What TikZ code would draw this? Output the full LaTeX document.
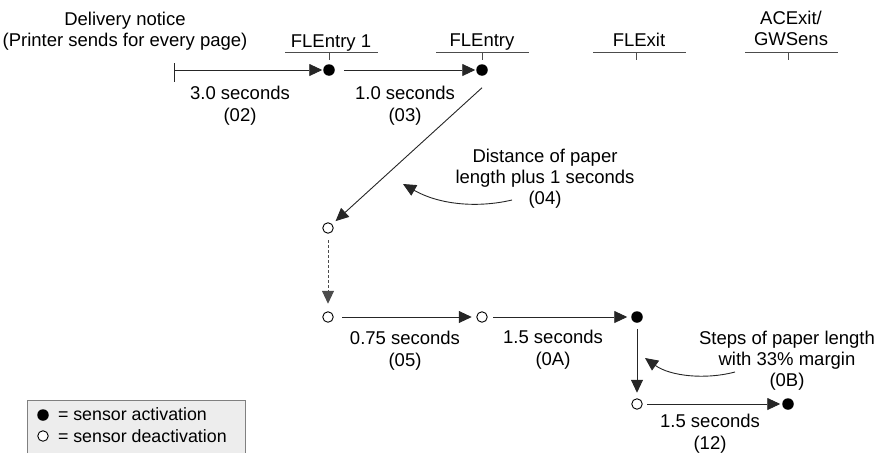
\documentclass[tikz,border=0pt]{standalone}
\usepackage{fontspec}
\setmainfont{Liberation Sans}
\usetikzlibrary{arrows.meta}
\begin{document}
\begin{tikzpicture}[x=1pt,y=-1pt,
  every node/.style={font=\fontsize{18.5}{21}\selectfont, inner sep=0pt, outer sep=0pt},
  lbl/.style={align=center, anchor=base},
  tlbl/.style={align=center, anchor=base, font=\fontsize{18.5}{22}\selectfont},
  on/.style={circle, fill=black, minimum size=11.5pt},
  off/.style={circle, draw=black, fill=white, line width=0.9pt, minimum size=10.5pt},
  ln/.style={line width=0.9pt, draw=black!85},
  arr/.style={ln, -{Triangle[length=13pt,width=12pt]}},
  bar/.style={line width=0.9pt, draw=black!70},
  dsh/.style={dash pattern=on 3pt off 2pt, draw=black!70}
]
\useasboundingbox (0,0) rectangle (880,453);

% header labels with bars (base = baseline of last line)
\node[lbl] (dn) at (125,46) {Delivery notice\\(Printer sends for every page)};
\node[lbl] (h1) at (331,47) {FLEntry 1};
\node[lbl] (h2) at (482,46) {FLEntry};
\node[lbl] (h3) at (639,46) {FLExit};
\node[lbl] (h4) at (791,45) {ACExit/\\GWSens};
\draw[bar] (285,52) -- (378,52);  \draw[bar] (329,52) -- (329,60);
\draw[bar] (436,52) -- (529,52);  \draw[bar] (482,52) -- (482,60);
\draw[bar] (593,52) -- (686,52);  \draw[bar] (636,52) -- (636,60);
\draw[bar] (745,52) -- (838,52);  \draw[bar] (788,52) -- (788,60);

% events
\coordinate (st) at (174,70);
\node[on]  (d1) at (329,70) {};
\node[on]  (d2) at (482,70) {};
\node[off] (o1) at (328,228) {};
\node[off] (o2) at (328,317) {};
\node[off] (o3) at (482,317) {};
\node[on]  (d3) at (637,317) {};
\node[off] (o4) at (637,404) {};
\node[on]  (d4) at (788,404) {};

\draw[ln] ([yshift=7pt]st) -- ([yshift=-12pt]st);
\draw[arr, shorten >=1pt] (st) -- (d1);
\draw[arr, shorten <=9pt, shorten >=1pt] (d1) -- (d2);
\coordinate (d2s) at ([yshift=-12pt]d2.south);
\draw[arr, shorten >=5pt] (d2s) -- (o1);
\draw[arr, dsh, shorten <=7pt, shorten >=8pt] (o1) -- (o2);
\draw[arr, shorten <=9pt, shorten >=5pt] (o2) -- (o3);
\draw[arr, shorten <=6pt, shorten >=4pt] (o3) -- (d3);
\draw[arr, shorten <=6pt, shorten >=6pt] (d3) -- (o4);
\draw[arr, shorten <=5pt, shorten >=2pt] (o4) -- (d4);

% time labels
\node[tlbl] (t02) at (240,121) {3.0 seconds\\(02)};
\node[tlbl] (t03) at (405,121) {1.0 seconds\\(03)};
\node[tlbl] (t05) at (405,366) {0.75 seconds\\(05)};
\node[tlbl] (t0a) at (553,365) {1.5 seconds\\(0A)};
\node[tlbl] (t12) at (710,449) {1.5 seconds\\(12)};

% annotations
\node[lbl] (a04) at (545,204) {Distance of paper\\length plus 1 seconds\\(04)};
\coordinate (c04s) at (512,200);
\coordinate (c04e) at (403,184);
\draw[arr] (c04s) .. controls (478,208) and (440,205) .. (c04e);
\node[lbl] (a0b) at (787,386) {Steps of paper length\\with 33\% margin\\(0B)};
\coordinate (c0bs) at (735,372);
\coordinate (c0be) at (645,358);
\draw[arr] (c0bs) .. controls (705,380) and (670,376) .. (c0be);

% legend
\fill[black!7] (27,400) rectangle (245,453);
\draw[line width=1pt, draw=black!50] (27,453) -- (27,400) -- (245,400) -- (245,453);
\node[on]  (lg1) at (43,415) {};
\node[off] (lg2) at (43,436) {};
\node[anchor=base west, font=\fontsize{17.8}{21}\selectfont] (lt1) at (58,420) {= sensor activation};
\node[anchor=base west, font=\fontsize{17.8}{21}\selectfont] (lt2) at (58,442) {= sensor deactivation};
\end{tikzpicture}
\end{document}
